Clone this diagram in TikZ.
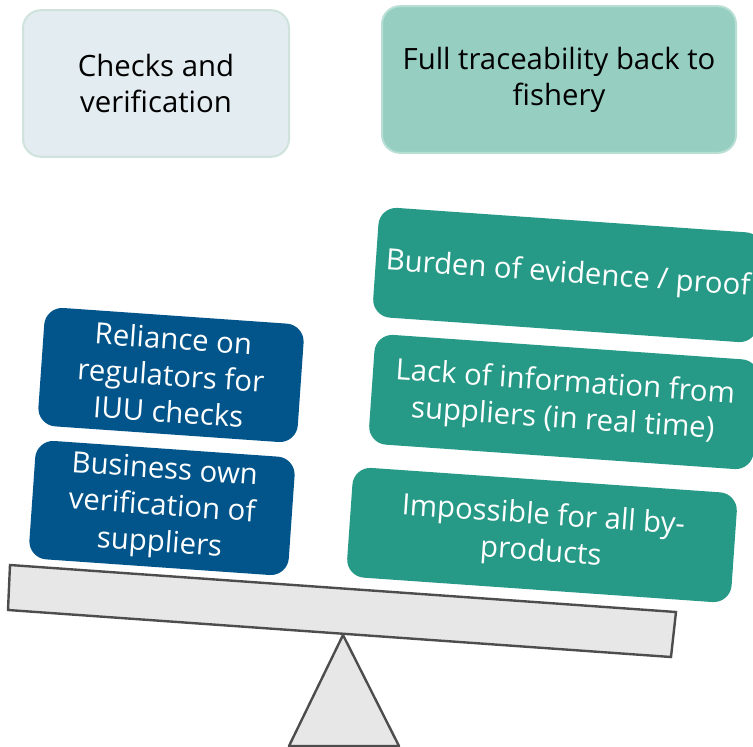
\documentclass[tikz,border=0pt]{standalone}
\usepackage{fontspec}
\setmainfont{Open Sans}
\definecolor{darkblue}{HTML}{02558B}
\definecolor{seagreen}{HTML}{279A87}
\definecolor{palegrey}{HTML}{E3ECF0}
\definecolor{paleedge}{HTML}{CFE3DC}
\definecolor{mint}{HTML}{96CEC2}
\definecolor{mintedge}{HTML}{B9DFD5}
\definecolor{beamgrey}{HTML}{E7E7E7}
\definecolor{beamedge}{HTML}{4D4D4D}
\begin{document}
\begin{tikzpicture}[x=0.75pt, y=-0.75pt]
      \tikzset{
        headbox/.style={rounded corners=13.5pt, line width=1.5pt, align=center,
          minimum height=110pt, font=\fontsize{22}{27}\selectfont},
        weightbox/.style={rounded corners=13.5pt, align=center, text=white,
          rotate=-4, font=\fontsize{22}{27.5}\selectfont},
        bluebox/.style={weightbox, fill=darkblue, minimum width=195pt, minimum height=89pt},
        greenbox/.style={weightbox, fill=seagreen, minimum width=289pt, minimum height=82.5pt}
      }
      \useasboundingbox (0,0) rectangle (753,746);

      % headings
      \node[headbox, fill=palegrey, draw=paleedge, minimum width=199.5pt] (checks) at (156,83.5) {Checks and\\verification};
      \node[headbox, fill=mint, draw=mintedge, minimum width=265.5pt] (trace) at (559,79.5) {Full traceability back to\\fishery};

      % left pan
      \node[bluebox] (reliance) at (171,375) {Reliance on\\regulators for\\IUU checks};
      \node[bluebox] (business) at (162,508) {Business own\\verification of\\suppliers};

      % right pan
      \node[greenbox] (burden) at (568,275) {Burden of evidence / proof};
      \node[greenbox] (lack) at (564,402) {Lack of information from\\suppliers (in real time)};
      \node[greenbox] (impossible) at (542,535) {Impossible for all by-\\products};

      % fulcrum and beam
      \filldraw[fill=beamgrey, draw=beamedge, line width=1.8pt, line join=round] (343,635) -- (399,746) -- (289,746) -- cycle;
      \filldraw[fill=beamgrey, draw=beamedge, line width=1.8pt] (10,565) -- (676,612) -- (671,657) -- (8,610) -- cycle;
\end{tikzpicture}
\end{document}
